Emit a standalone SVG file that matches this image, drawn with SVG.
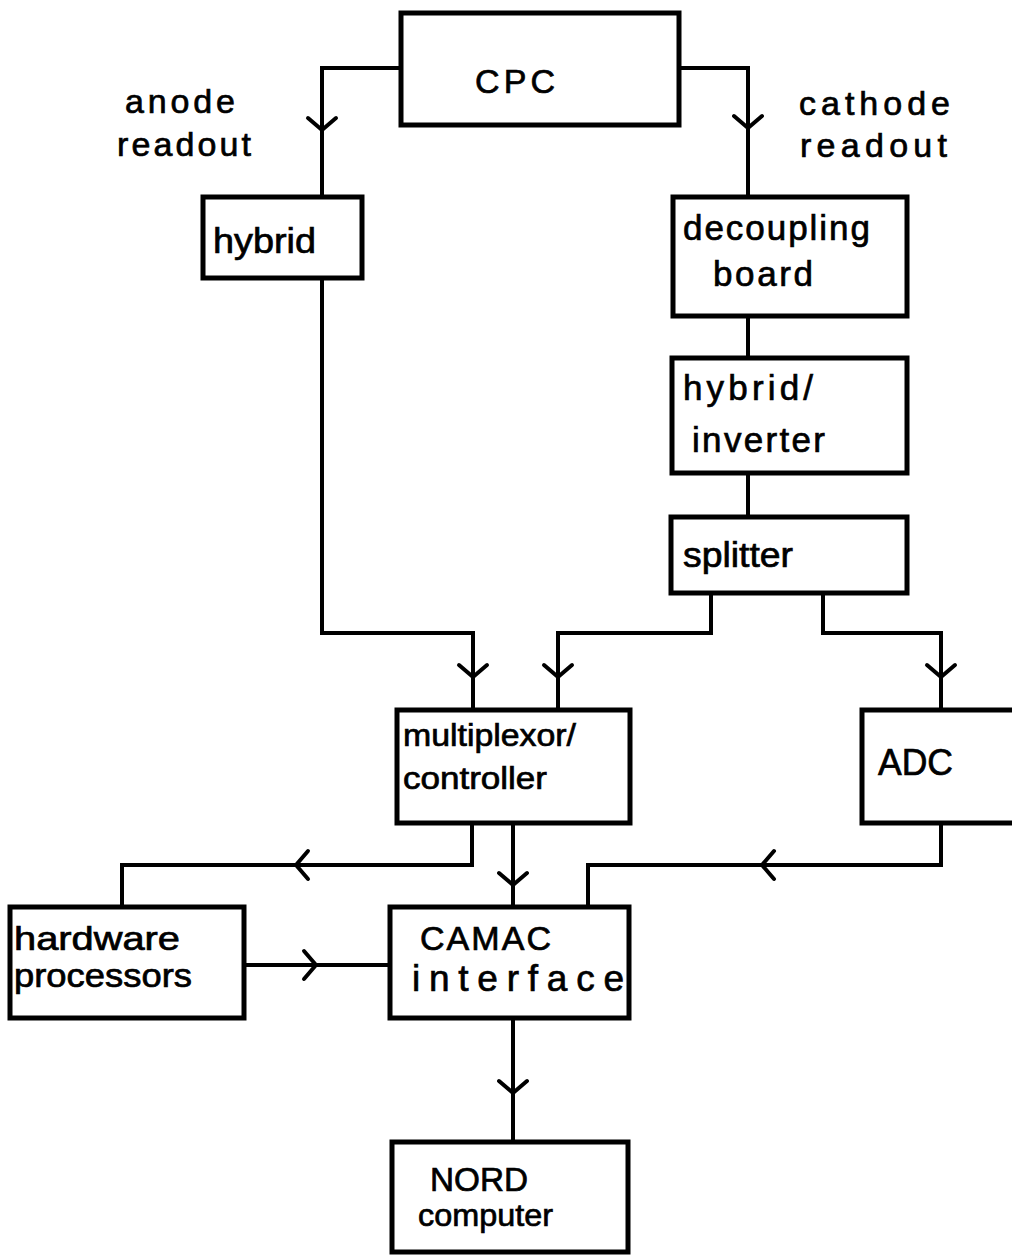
<svg xmlns="http://www.w3.org/2000/svg" xmlns:xlink="http://www.w3.org/1999/xlink" width="1012" height="1257" viewBox="0 0 1012 1257">
<style>
.box{fill:none;stroke:#000;stroke-width:5;stroke-linejoin:miter}
.ln{fill:none;stroke:#000;stroke-width:4;stroke-linejoin:miter}
.ah{fill:none;stroke:#000;stroke-width:4;stroke-linecap:round;stroke-linejoin:round}
text{font-family:"Liberation Sans","Arial",sans-serif;fill:#000;stroke:#000;stroke-width:0.7}
.t{font-size:35px}
</style>
<defs>
<path id="ad" d="M-14,-12 L0,0 L14,-12" class="ah"/>
</defs>
<rect width="1012" height="1257" fill="#fff"/>
<g id="connectors">
<path class="ln" d="M401,68 H322 V197"/>
<path class="ln" d="M679,68 H748 V197"/>
<path class="ln" d="M322,278 V633 H473 V710"/>
<path class="ln" d="M748,317 V358"/>
<path class="ln" d="M748,473 V517"/>
<path class="ln" d="M711,593 V633 H558 V710"/>
<path class="ln" d="M823,593 V633 H941 V710"/>
<path class="ln" d="M941,823 V865 H588 V907"/>
<path class="ln" d="M472,823 V865 H122 V907"/>
<path class="ln" d="M513,823 V907"/>
<path class="ln" d="M244,965 H390"/>
<path class="ln" d="M513,1018 V1142"/>
<use xlink:href="#ad" transform="translate(322,130)"/>
<use xlink:href="#ad" transform="translate(748,128)"/>
<use xlink:href="#ad" transform="translate(473,677)"/>
<use xlink:href="#ad" transform="translate(558,677)"/>
<use xlink:href="#ad" transform="translate(941,677)"/>
<use xlink:href="#ad" transform="translate(762,865) rotate(90)"/>
<use xlink:href="#ad" transform="translate(296,865) rotate(90)"/>
<use xlink:href="#ad" transform="translate(513,885)"/>
<use xlink:href="#ad" transform="translate(316,965) rotate(-90)"/>
<use xlink:href="#ad" transform="translate(513,1093)"/>
</g>
<g id="labels">
<text x="125" y="113" font-size="34" textLength="110" lengthAdjust="spacing">anode</text>
<text x="117" y="156" font-size="34" textLength="134" lengthAdjust="spacing">readout</text>
<text x="799" y="115" font-size="34" textLength="151" lengthAdjust="spacing">cathode</text>
<text x="800" y="157" font-size="34" textLength="147" lengthAdjust="spacing">readout</text>
</g>
<g id="cpc">
<rect class="box" x="401" y="13" width="278" height="112"/>
<text x="475" y="93" font-size="34" textLength="80" lengthAdjust="spacing">CPC</text>
</g>
<g id="hybrid">
<rect class="box" x="203" y="197" width="159" height="81"/>
<text class="t" x="213" y="253" textLength="103" lengthAdjust="spacingAndGlyphs">hybrid</text>
</g>
<g id="decoupling">
<rect class="box" x="673" y="197" width="234" height="119"/>
<text class="t" x="683" y="240" textLength="187" lengthAdjust="spacing">decoupling</text>
<text class="t" x="713" y="286" textLength="100" lengthAdjust="spacing">board</text>
</g>
<g id="hybrid-inverter">
<rect class="box" x="672" y="358" width="235" height="115"/>
<text class="t" x="683" y="400" textLength="130" lengthAdjust="spacing">hybrid/</text>
<text class="t" x="692" y="452" textLength="133" lengthAdjust="spacing">inverter</text>
</g>
<g id="splitter">
<rect class="box" x="671" y="517" width="236" height="76"/>
<text class="t" x="683" y="567" textLength="110" lengthAdjust="spacingAndGlyphs">splitter</text>
</g>
<g id="multiplexor">
<rect class="box" x="397" y="710" width="233" height="113"/>
<text x="403" y="746" font-size="31" textLength="173" lengthAdjust="spacingAndGlyphs">multiplexor/</text>
<text x="403" y="789" font-size="31" textLength="144" lengthAdjust="spacingAndGlyphs">controller</text>
</g>
<g id="adc">
<rect class="box" x="862" y="710" width="170" height="113"/>
<text x="878" y="775" font-size="37" textLength="75" lengthAdjust="spacingAndGlyphs">ADC</text>
</g>
<g id="hardware">
<rect class="box" x="10" y="907" width="234" height="111"/>
<text x="14" y="950" font-size="33" textLength="166" lengthAdjust="spacingAndGlyphs">hardware</text>
<text x="14" y="987" font-size="33" textLength="178" lengthAdjust="spacingAndGlyphs">processors</text>
</g>
<g id="camac">
<rect class="box" x="390" y="907" width="239" height="111"/>
<text x="420" y="950" font-size="34" textLength="131" lengthAdjust="spacing">CAMAC</text>
<text x="412" y="991" font-size="37" textLength="212" lengthAdjust="spacing">interface</text>
</g>
<g id="nord">
<rect class="box" x="392" y="1142" width="236" height="110"/>
<text x="430" y="1191" font-size="33" textLength="98" lengthAdjust="spacingAndGlyphs">NORD</text>
<text x="418" y="1226" font-size="32" textLength="135" lengthAdjust="spacingAndGlyphs">computer</text>
</g>
</svg>
